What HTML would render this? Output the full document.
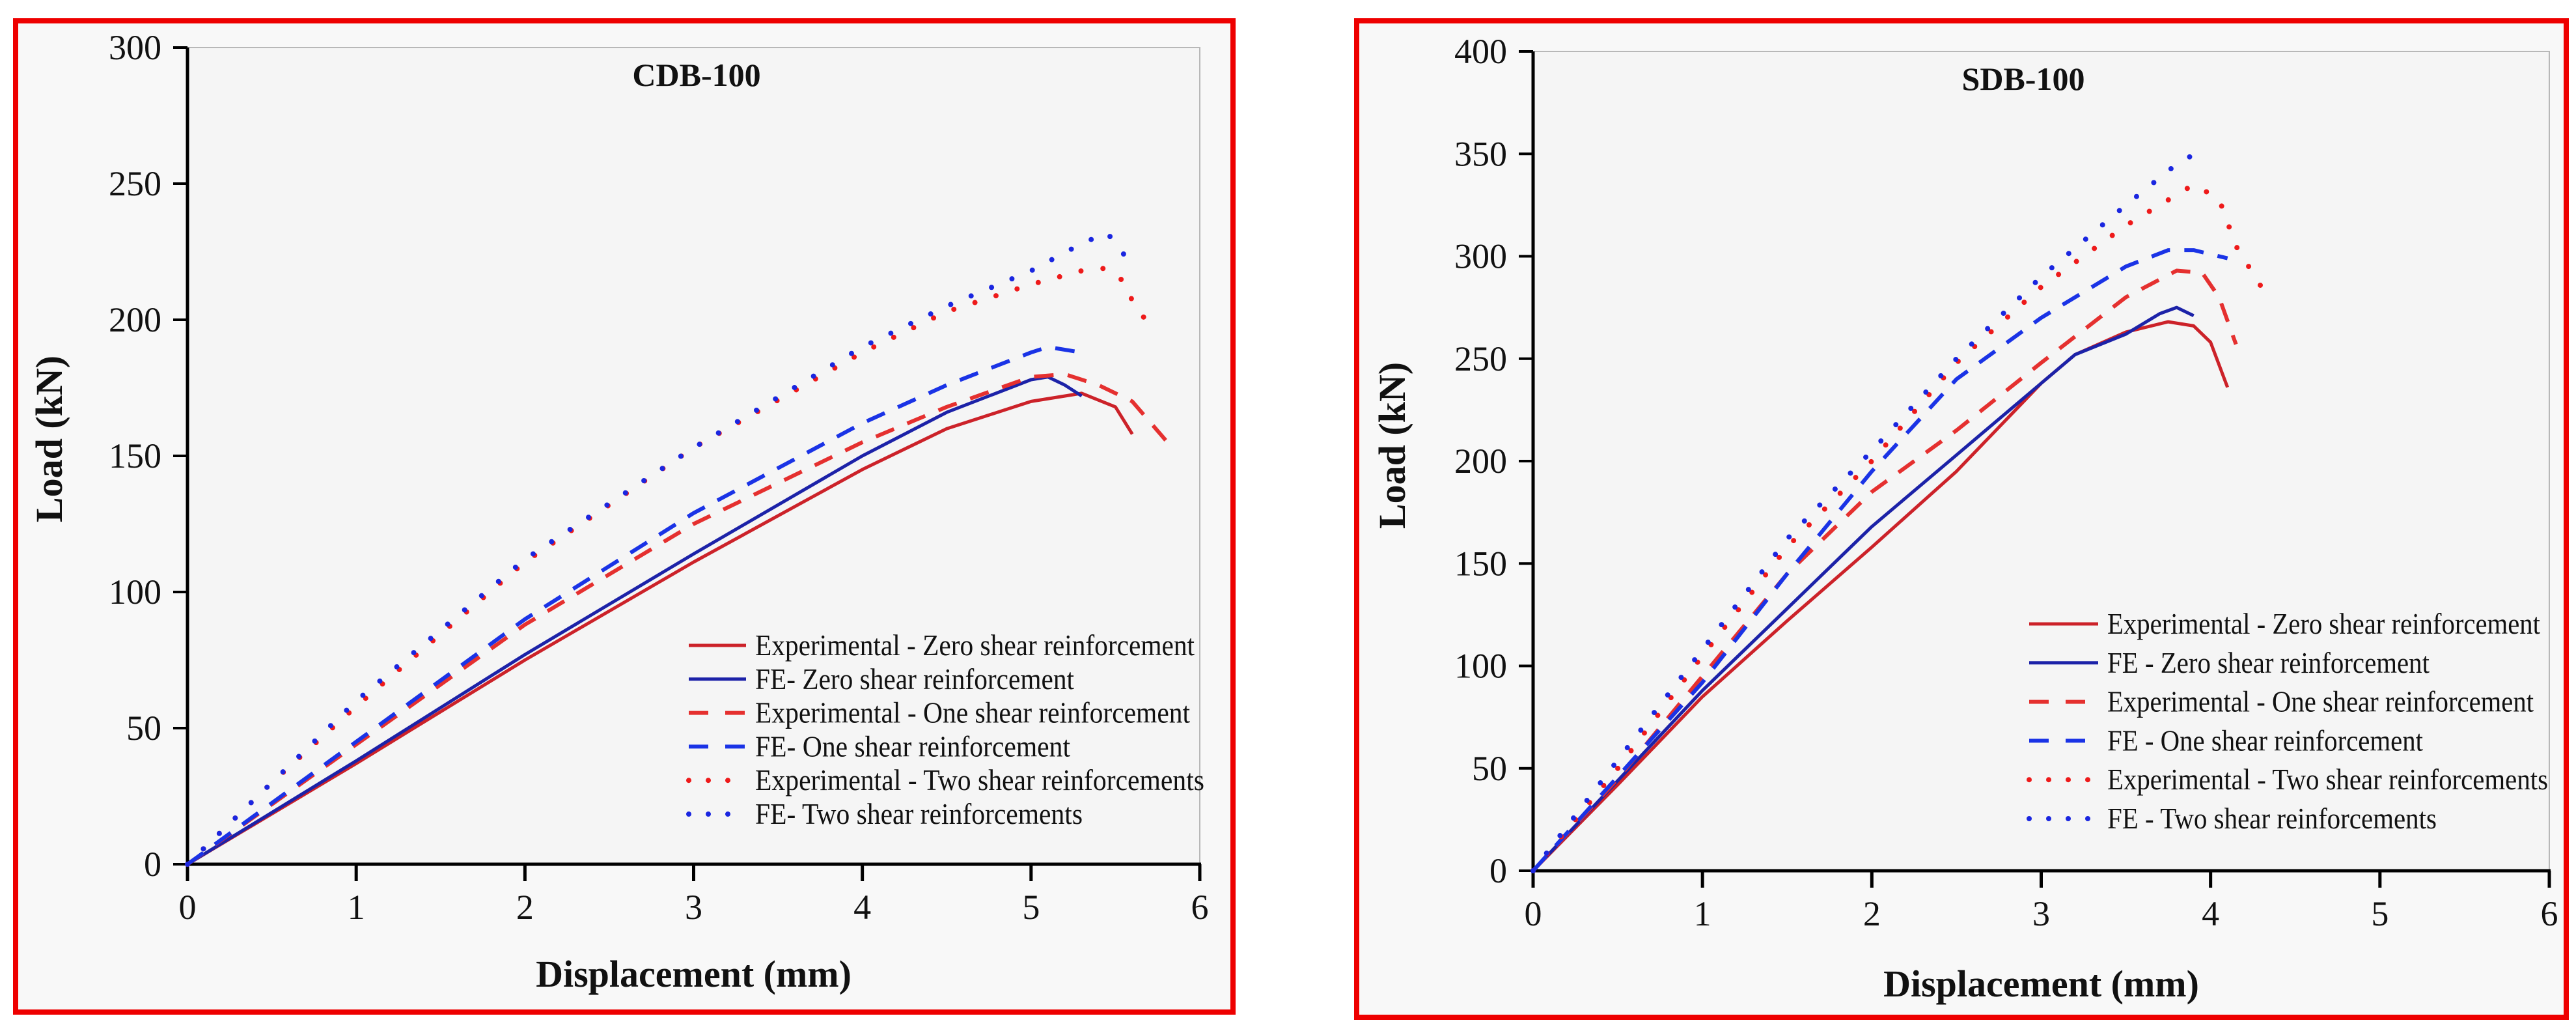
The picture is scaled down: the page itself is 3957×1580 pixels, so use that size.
<!DOCTYPE html>
<html><head><meta charset="utf-8"><style>
html,body{margin:0;padding:0;background:#fff;}
svg{display:block;}
text{font-family:"Liberation Serif",serif;fill:#111;}
</style></head><body>
<svg id="chart" width="3957" height="1580" viewBox="0 0 3957 1580" xmlns="http://www.w3.org/2000/svg">
<rect x="0" y="0" width="3957" height="1580" fill="#ffffff"/>
<g id="p1"></g>
<g id="p2"></g>
</svg>
<script>
// ===== CDB-100 data =====
const cdbXTicks = [0,1,2,3,4,5,6];
const cdbYTicks = [0,50,100,150,200,250,300];
const cdbExpZeroX = [0,1,2,3,4,4.5,5,5.3,5.5,5.6];
const cdbExpZeroY = [0,37,75,111,145,160,170,173,168,158];
const cdbFeZeroX = [0,1,2,3,4,4.5,5,5.1,5.2,5.3];
const cdbFeZeroY = [0,38,77,114,150,166,178,179,176,172];
const cdbExpOneX = [0,0.5,1,2,3,4,4.5,5,5.2,5.4,5.6,5.85];
const cdbExpOneY = [0,22,44,88,125,155,168,179,180,176,170,152];
const cdbFeOneX = [0,1,2,3,4,4.5,5,5.1,5.3];
const cdbFeOneY = [0,45,90,129,162,176,188,190,188];
const cdbExpTwoX = [0,0.5,1,2,3,4,4.5,5,5.3,5.45,5.55,5.6,5.7];
const cdbExpTwoY = [0,30,58,111,153,188,203,213,218,219,214,207,198];
const cdbFeTwoX = [0,1,2,3,4,4.5,5,5.3,5.45,5.55];
const cdbFeTwoY = [0,60,112,153,190,205,218,228,232,224];
// ===== SDB-100 data =====
const sdbXTicks = [0,1,2,3,4,5,6];
const sdbYTicks = [0,50,100,150,200,250,300,350,400];
const sdbExpZeroX = [0,0.5,1,1.5,2,2.5,3,3.2,3.5,3.75,3.9,4,4.1];
const sdbExpZeroY = [0,42,85,122,158,195,238,252,263,268,266,258,236];
const sdbFeZeroX = [0,1,1.5,2,2.5,3,3.2,3.5,3.7,3.8,3.9];
const sdbFeZeroY = [0,88,128,168,203,238,252,262,272,275,271];
const sdbExpOneX = [0,0.5,1,1.5,2,2.5,3,3.5,3.8,3.95,4.05,4.15];
const sdbExpOneY = [0,45,95,145,185,215,248,280,293,292,280,257];
const sdbFeOneX = [0,1,1.5,2,2.5,3,3.5,3.75,3.9,4.1];
const sdbFeOneY = [0,92,145,195,240,270,295,303,303,299];
const sdbExpTwoX = [0,0.5,1,1.5,2,2.5,3,3.5,3.9,4.05,4.15,4.3];
const sdbExpTwoY = [0,50,105,158,200,248,285,315,335,328,305,285];
const sdbFeTwoX = [0,1,1.5,2,2.5,3,3.5,3.8,3.95];
const sdbFeTwoY = [0,108,162,205,250,290,325,345,352];

const NS = "http://www.w3.org/2000/svg";
function mk(parent, tag, attrs){
  const e = document.createElementNS(NS, tag);
  for (const k in attrs) e.setAttribute(k, attrs[k]);
  parent.appendChild(e);
  return e;
}
const styles = {
  expZero:{stroke:"#cc2229", dash:"", w:5, cap:"butt"},
  feZero:{stroke:"#1c22a8", dash:"", w:5, cap:"butt"},
  expOne:{stroke:"#e5302f", dash:"30 22", w:6, cap:"butt"},
  feOne:{stroke:"#1a33e6", dash:"30 22", w:6, cap:"butt"},
  expTwo:{stroke:"#ee1a1a", dash:"0 34", w:8, cap:"round"},
  feTwo:{stroke:"#1a26e0", dash:"0 34", w:8, cap:"round"}
};
function panel(g, cfg){
  const X = v => cfg.x0 + (cfg.x1 - cfg.x0) * v / cfg.xmax;
  const Y = v => cfg.y0 - (cfg.y0 - cfg.y1) * v / cfg.ymax;
  let e;
  e = mk(g,"rect",{x:cfg.bx,y:cfg.by,width:cfg.bw,height:cfg.bh,fill:"#f8f8f8",stroke:"#ee0000","stroke-width":8});
  
  
  e = mk(g,"rect",{x:cfg.x0,y:cfg.y1,width:cfg.x1-cfg.x0,height:cfg.y0-cfg.y1,fill:"#f5f5f5",stroke:"#b8b8b8","stroke-width":2});
  
  
  e = mk(g,"line",{x1:cfg.x0,y1:cfg.y1,x2:cfg.x0,y2:cfg.y0+2,stroke:"#000","stroke-width":5});
  
  
  e = mk(g,"line",{x1:cfg.x0-2,y1:cfg.y0,x2:cfg.x1+2,y2:cfg.y0,stroke:"#000","stroke-width":5});
  
  
  cfg.yt.forEach(v=>{
    const t = mk(g,"line",{x1:cfg.x0-22,y1:Y(v),x2:cfg.x0,y2:Y(v),stroke:"#000","stroke-width":4});
    
    
    const l = mk(g,"text",{x:cfg.x0-40,y:Y(v)+18,"font-size":54,"text-anchor":"end"});
    l.textContent = v;
    
    
  });
  cfg.xt.forEach(v=>{
    const t = mk(g,"line",{x1:X(v),y1:cfg.y0,x2:X(v),y2:cfg.y0+26,stroke:"#000","stroke-width":5});
    
    
    const l = mk(g,"text",{x:X(v),y:cfg.y0+84,"font-size":54,"text-anchor":"middle"});
    l.textContent = v;
    
    
  });
  e = mk(g,"text",{x:cfg.tx,y:cfg.ty,"font-size":50,"font-weight":"bold","text-anchor":"middle"});
  e.textContent = cfg.title;
  
  
  e = mk(g,"text",{x:(cfg.x0+cfg.x1)/2,y:cfg.xty,"font-size":58,"font-weight":"bold","text-anchor":"middle"});
  e.textContent = "Displacement (mm)";
  
  
  e = mk(g,"text",{x:cfg.ytx,y:cfg.yty,"font-size":58,"font-weight":"bold","text-anchor":"middle",transform:`rotate(-90 ${cfg.ytx} ${cfg.yty})`});
  e.textContent = "Load (kN)";
  
  
  cfg.series.forEach(s=>{
    const st = styles[s.key];
    const d = s.x.map((v,i)=>(i?"L":"M")+X(v).toFixed(1)+","+Y(s.y[i]).toFixed(1)).join(" ");
    const p = mk(g,"path",{d:d,fill:"none",stroke:st.stroke,"stroke-width":st.w,"stroke-dasharray":st.dash,"stroke-linecap":st.cap,"stroke-linejoin":"round"});
    
    
  });
  cfg.series.forEach((s,i)=>{
    const st = styles[s.key];
    const y = cfg.ly + i*cfg.lgap;
    const ln = mk(g,"line",{x1:cfg.lx,y1:y,x2:cfg.lx+cfg.lw,y2:y,stroke:st.stroke,"stroke-width":st.w,"stroke-dasharray":st.dash?(st.cap==="round"?"0 30":"30 26"):"","stroke-linecap":st.cap});
    
    
    const t = mk(g,"text",{x:cfg.lx+cfg.lw+14,y:y+15,"font-size":46,textLength:s.len,lengthAdjust:"spacingAndGlyphs"});
    t.textContent = s.label;
    
    
  });
}
panel(document.getElementById("p1"),{
  bx:24,by:32,bw:1870,bh:1522,
  x0:288,x1:1843,y0:1327,y1:73,xmax:6,ymax:300,
  xt:cdbXTicks, yt:cdbYTicks,
  title:"CDB-100", tx:1070, ty:132, xty:1515, ytx:95, yty:674,
  lx:1058, lw:88, ly:991, lgap:51.8,
  series:[
    {key:"expZero",x:cdbExpZeroX,y:cdbExpZeroY,label:"Experimental - Zero shear reinforcement",len:675},
    {key:"feZero",x:cdbFeZeroX,y:cdbFeZeroY,label:"FE- Zero shear reinforcement",len:490},
    {key:"expOne",x:cdbExpOneX,y:cdbExpOneY,label:"Experimental - One shear reinforcement",len:668},
    {key:"feOne",x:cdbFeOneX,y:cdbFeOneY,label:"FE- One shear reinforcement",len:484},
    {key:"expTwo",x:cdbExpTwoX,y:cdbExpTwoY,label:"Experimental - Two shear reinforcements",len:690},
    {key:"feTwo",x:cdbFeTwoX,y:cdbFeTwoY,label:"FE- Two shear reinforcements",len:503}
  ]
});
panel(document.getElementById("p2"),{
  bx:2084,by:32,bw:1858,bh:1530,
  x0:2355,x1:3916,y0:1337,y1:79,xmax:6,ymax:400,
  xt:sdbXTicks, yt:sdbYTicks,
  title:"SDB-100", tx:3108, ty:138, xty:1530, ytx:2158, yty:684,
  lx:3117, lw:106, ly:958, lgap:59.8,
  series:[
    {key:"expZero",x:sdbExpZeroX,y:sdbExpZeroY,label:"Experimental - Zero shear reinforcement",len:665},
    {key:"feZero",x:sdbFeZeroX,y:sdbFeZeroY,label:"FE - Zero shear reinforcement",len:495},
    {key:"expOne",x:sdbExpOneX,y:sdbExpOneY,label:"Experimental - One shear reinforcement",len:655},
    {key:"feOne",x:sdbFeOneX,y:sdbFeOneY,label:"FE - One shear reinforcement",len:485},
    {key:"expTwo",x:sdbExpTwoX,y:sdbExpTwoY,label:"Experimental - Two shear reinforcements",len:677},
    {key:"feTwo",x:sdbFeTwoX,y:sdbFeTwoY,label:"FE - Two shear reinforcements",len:506}
  ]
});
</script>
</body></html>
